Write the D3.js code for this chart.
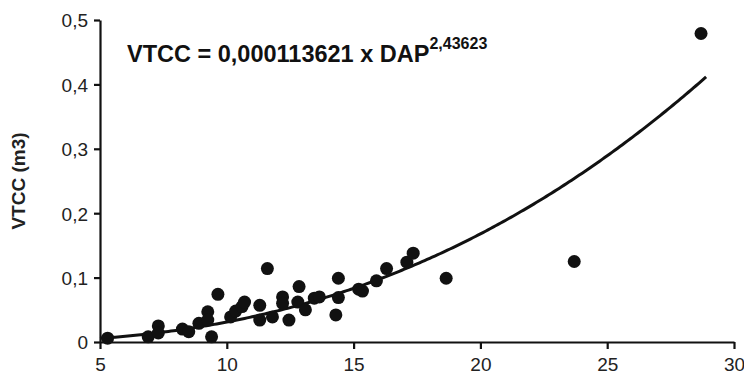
<!DOCTYPE html>
<html>
<head>
<meta charset="utf-8">
<script src="https://cdn.jsdelivr.net/npm/d3@7"></script>
<style>
  body { margin: 0; background: #fff; }
  text { font-family: "Liberation Sans", Arial, sans-serif; }
</style>
</head>
<body>
<div id="chart"></div>
<script>

var dap = [5.3, 6.9, 7.3, 7.3, 8.25, 8.5, 8.9, 9.25, 9.25, 9.4, 9.65, 10.15, 10.35, 10.6, 10.7,
  11.3, 11.3, 11.6, 11.8, 12.2, 12.2, 12.45, 12.85, 12.8, 13.1, 13.45, 13.65,
  14.4, 14.4, 14.3, 15.2, 15.35, 15.9, 16.3, 17.1, 17.35, 18.65, 23.7, 28.7];
var vtcc = [0.006, 0.008, 0.025, 0.014, 0.020, 0.016, 0.029, 0.047, 0.034, 0.008, 0.074, 0.039, 0.048, 0.055, 0.062,
  0.057, 0.034, 0.114, 0.039, 0.070, 0.060, 0.034, 0.086, 0.062, 0.050, 0.068, 0.070,
  0.099, 0.069, 0.042, 0.082, 0.079, 0.095, 0.114, 0.124, 0.138, 0.099, 0.125, 0.479];

// fitted model shown on the chart: VTCC = a * DAP^b
var coefA = 0.000113621;
var coefB = 2.43623;
var fitRange = [5, 28.93];

var xTicks = [5, 10, 15, 20, 25, 30];
var yTicks = [0, 0.1, 0.2, 0.3, 0.4, 0.5];
var yLabel = "VTCC (m3)";

var width = 744, height = 381;
var margin = {top: 20, right: 10, bottom: 39, left: 100};
var innerW = 734 - margin.left, innerH = 342 - margin.top;

var locale = d3.formatLocale({decimal: ",", thousands: ".", grouping: [3], currency: ["", ""]});
var fmt = locale.format("~g");

var svg = d3.select("#chart").append("svg")
  .attr("width", width).attr("height", height);
var g = svg.append("g")
  .attr("transform", "translate(" + margin.left + "," + margin.top + ")");

var x = d3.scaleLinear().domain([5, 30]).range([0, innerW]);
var y = d3.scaleLinear().domain([0, 0.5]).range([innerH, 0]);

// axes
var xAxisG = g.append("g")
  .attr("transform", "translate(0," + innerH + ")")
  .call(d3.axisBottom(x).tickValues(xTicks).tickSize(7).tickSizeOuter(0).tickPadding(9).tickFormat(fmt));
var yAxisG = g.append("g")
  .call(d3.axisLeft(y).tickValues(yTicks).tickSize(6).tickSizeOuter(0).tickPadding(6).tickFormat(fmt));

[xAxisG, yAxisG].forEach(function(a) {
  a.selectAll("path, line").attr("stroke", "#111").attr("stroke-width", 2.2);
  a.selectAll("text").attr("fill", "#222").attr("font-size", "19px");
});
yAxisG.selectAll("text").attr("dy", "0.36em");

// fitted curve
var curvePts = d3.range(fitRange[0], fitRange[1] + 0.001, 0.1).map(function(d) {
  return [d, coefA * Math.pow(d, coefB)];
});
g.append("path")
  .datum(curvePts)
  .attr("fill", "none")
  .attr("stroke", "#111")
  .attr("stroke-width", 3)
  .attr("d", d3.line().x(function(d) { return x(d[0]); }).y(function(d) { return y(d[1]); }));

// observations
g.selectAll(".dot")
  .data(dap.map(function(d, i) { return [d, vtcc[i]]; }))
  .enter().append("circle")
    .attr("class", "dot")
    .attr("cx", function(d) { return x(d[0]); })
    .attr("cy", function(d) { return y(d[1]); })
    .attr("r", 6.5)
    .attr("fill", "#111");

// y label
svg.append("text")
  .attr("transform", "translate(25," + (margin.top + innerH / 2) + ") rotate(-90)")
  .attr("text-anchor", "middle")
  .attr("font-size", "19px")
  .attr("font-weight", "bold")
  .attr("fill", "#222")
  .text(yLabel);

// equation
var eq = svg.append("text")
  .attr("x", 127).attr("y", 62)
  .attr("font-size", "23.5px")
  .attr("font-weight", "bold")
  .attr("fill", "#111");
eq.append("tspan").text("VTCC = " + locale.format(".9f")(coefA) + " x DAP");
eq.append("tspan").attr("dy", -13).attr("font-size", "16px").text(locale.format(".5f")(coefB));

</script>
</body>
</html>
